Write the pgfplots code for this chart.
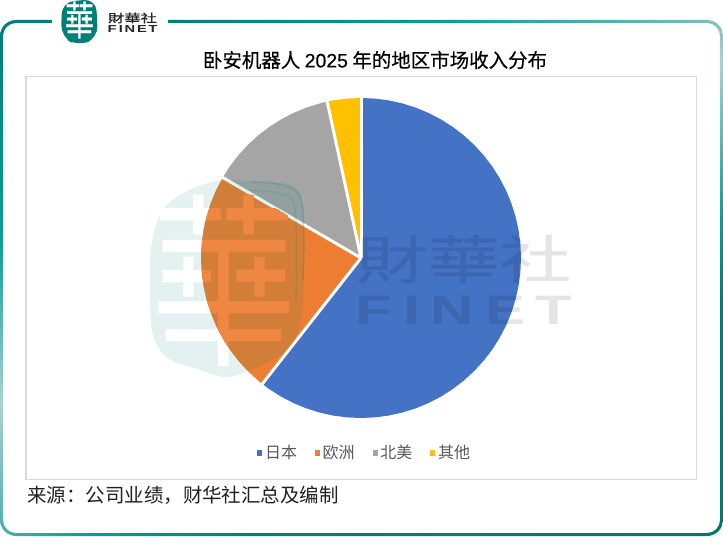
\documentclass[border=0pt]{standalone}
\usepackage{fontspec}
\usepackage{pgfplots}
\pgfplotsset{compat=1.18}
\setmainfont{Noto Sans CJK SC}
\newfontfamily\tcfont[FakeBold=0.6]{Noto Sans CJK TC}
\newfontfamily\tcplain{Noto Sans CJK TC}
\newfontfamily\titlefont[FakeBold=0.3]{Noto Sans CJK SC}
\newfontfamily\latinfont{Liberation Sans}
\newfontfamily\titlelatin[FakeBold=0.3]{Liberation Sans}

\definecolor{cJapan}{HTML}{4472C4}
\definecolor{cEurope}{HTML}{ED7D31}
\definecolor{cNA}{HTML}{A5A5A5}
\definecolor{cOther}{HTML}{FFC000}
\definecolor{finet}{HTML}{007F78}
\definecolor{frBright}{HTML}{0A9E97}
\definecolor{frPale}{HTML}{A8D3D0}
\definecolor{frMid}{HTML}{4CADA8}
\definecolor{frDark}{HTML}{007870}
\definecolor{frFade}{HTML}{7FC0BC}

% frame colours run round the border, one shading per side (visible part is 25bp..75bp)
\pgfdeclareverticalshading{frameL}{100bp}{color(0bp)=(frMid); color(25bp)=(frMid); color(38bp)=(frPale); color(53.4bp)=(frBright); color(75bp)=(finet); color(100bp)=(finet)}
\pgfdeclareverticalshading{frameR}{100bp}{color(0bp)=(frDark); color(25bp)=(frDark); color(48bp)=(finet); color(56bp)=(frBright); color(71bp)=(frPale); color(75bp)=(frFade); color(100bp)=(frFade)}
\pgfdeclarehorizontalshading{frameT}{100bp}{color(0bp)=(finet); color(25bp)=(finet); color(37bp)=(finet); color(56bp)=(frBright); color(75bp)=(frFade); color(100bp)=(frFade)}
\pgfdeclarehorizontalshading{frameB}{100bp}{color(0bp)=(frMid); color(25bp)=(frMid); color(31bp)=(frBright); color(42bp)=(finet); color(75bp)=(frDark); color(100bp)=(frDark)}

\def\framering{[rounded corners=12pt] (0,20) rectangle (723,536) [rounded corners=9.75pt] (3,23) rectangle (720,533)}
\def\blob{plot[smooth cycle,tension=0.6] coordinates {(208,183) (250,181) (290,185) (303,205) (304,280) (297,337) (277,357) (250,370) (225,377) (195,368) (168,358) (153,335) (150,292) (152,242) (167,205)}}
\def\bigchar#1{\node[text=#1,xscale=0.86,yscale=1.1,transform shape] at (224,281) {\tcplain\fontsize{127}{127}\selectfont 華};}

\begin{document}
\begin{tikzpicture}
% image pixels: origin at the top left, the axis box sits at x 26..696, y 77..479
\tikzset{px/.style={x=0.75pt,y=-0.75pt,shift={(-19.5pt,359.25pt)}}}
\begin{scope}[px]
\useasboundingbox (0,0) rectangle (723,556);
\fill[white] (0,0) rectangle (723,556);
\begin{scope}\clip (0,0) rectangle (16,556); \shade[even odd rule,shading=frameL] \framering; \end{scope}
\begin{scope}\clip (707,0) rectangle (723,556); \shade[even odd rule,shading=frameR] \framering; \end{scope}
\begin{scope}\clip (16,0) rectangle (707,100); \shade[even odd rule,shading=frameT] \framering; \end{scope}
\begin{scope}\clip (16,450) rectangle (707,556); \shade[even odd rule,shading=frameB] \framering; \end{scope}
% logo in the gap of the top line
\fill[white] (52,10) rectangle (168,30);
\fill[finet,rounded corners=9pt] (62,2) -- (96,-1) -- (98,38) -- (78,46) -- (61,37) -- cycle;
\node[text=white,xscale=0.88,yscale=1.2,transform shape] at (79.5,20) {\tcfont\fontsize{25}{25}\selectfont 華};
\node[text=black!85,inner sep=0pt,xscale=1.42,transform shape] at (132.5,18) {\tcfont\fontsize{8.6}{8.6}\selectfont 財華社};
\foreach \x/\l in {112.2/F,120.8/I,130/N,141.9/E,152.9/T}
  \node[text=black!85,inner sep=0pt,xscale=1.45,transform shape] at (\x,29) {\latinfont\bfseries\fontsize{7.6}{7.6}\selectfont \l};
% watermark, part that lies on the white ground
\fill[finet!11] \blob;
\bigchar{white}
\end{scope}

\begin{axis}[
  scale only axis,
  width=502.5pt,
  height=301.5pt,
  xmin=-335,xmax=335,
  ymin=-221,ymax=181,
  ticks=none,
  axis line style={draw=black!15,line width=0.75pt},
  data cs=polar,
  legend columns=4,
  legend style={draw=none,fill=none,at={(axis cs:4,-195)},anchor=center,font=\fontsize{12}{12}\selectfont,text=black!65,inner sep=0pt,/tikz/every even column/.append style={column sep=11.5pt}},
  legend image code/.code={\fill[#1] (0,-1.9pt) rectangle (3.75pt,1.9pt);},
]
% angle, radius: shares about 60.6, 22.8, 13.2, 3.4 per cent
\addplot[fill=cJapan,draw=none] coordinates {(0,0) (90,160) (85,160) (80,160) (75,160) (70,160) (65,160) (60,160) (55,160) (50,160) (45,160) (40,160) (35,160) (30,160) (25,160) (20,160) (15,160) (10,160) (5,160) (0,160) (-5,160) (-10,160) (-15,160) (-20,160) (-25,160) (-30,160) (-35,160) (-40,160) (-45,160) (-50,160) (-55,160) (-60,160) (-65,160) (-70,160) (-75,160) (-80,160) (-85,160) (-90,160) (-95,160) (-100,160) (-105,160) (-110,160) (-115,160) (-120,160) (-125,160) (-128.1,160) (0,0)};
\addlegendentry{日本}
\addplot[fill=cEurope,draw=none] coordinates {(0,0) (231.9,160) (230,160) (225,160) (220,160) (215,160) (210,160) (205,160) (200,160) (195,160) (190,160) (185,160) (180,160) (175,160) (170,160) (165,160) (160,160) (155,160) (150,160) (149.8,160) (0,0)};
\addlegendentry{欧洲}
\addplot[fill=cNA,draw=none] coordinates {(0,0) (149.8,160) (145,160) (140,160) (135,160) (130,160) (125,160) (120,160) (115,160) (110,160) (105,160) (102.2,160) (0,0)};
\addlegendentry{北美}
\addplot[fill=cOther,draw=none] coordinates {(0,0) (102.2,160) (100,160) (95,160) (90,160) (0,0)};
\addlegendentry{其他}
% white gaps between the slices
\addplot[forget plot,white,line width=2.25pt] coordinates {(90,161) (0,0)};
\addplot[forget plot,white,line width=2.25pt] coordinates {(231.9,161) (0,0)};
\addplot[forget plot,white,line width=2.25pt] coordinates {(149.8,161) (0,0)};
\addplot[forget plot,white,line width=2.25pt] coordinates {(102.2,161) (0,0)};
\end{axis}

\begin{scope}[px]
% watermark on top of the pie
\begin{scope}
\clip (361,258) circle[radius=160];
\fill[finet,opacity=0.11] \blob;
\draw[finet,opacity=0.2,line width=1pt] plot[smooth,tension=0.6] coordinates {(250,182) (285,186) (302,205) (303,280)};
\draw[finet,opacity=0.15,line width=1pt] plot[smooth,tension=0.6] coordinates {(250,190) (280,194) (295,210) (296,300)};
\clip (361,258) -- (165,508) -- (60,500) -- (60,96) -- (83,96) -- cycle;
\bigchar{cEurope!92!white}
\end{scope}
\begin{scope}[opacity=0.1,transparency group]
\node[text=black,inner sep=0pt,xscale=1.38,transform shape] at (463.5,259) {\tcfont\fontsize{39}{39}\selectfont 財華社};
\foreach \x/\l in {373.5/F,411.5/I,452.5/N,505/E,553.5/T}
  \node[text=black,inner sep=0pt,xscale=1.45,transform shape] at (\x,310) {\latinfont\bfseries\fontsize{31}{31}\selectfont \l};
\end{scope}
\node[inner sep=0pt] at (375,60) {\titlefont\fontsize{14.6}{14.6}\selectfont 卧安机器人 {\titlelatin 2025} 年的地区市场收入分布};
% full-width colon and comma as in the source line
\node[anchor=west,inner sep=0pt,text=black!87] at (27,495) {\fontsize{14.6}{14.6}\selectfont 来源\char"FF1A 公司业绩\char"FF0C 财华社汇总及编制};
\end{scope}
\end{tikzpicture}
\end{document}
